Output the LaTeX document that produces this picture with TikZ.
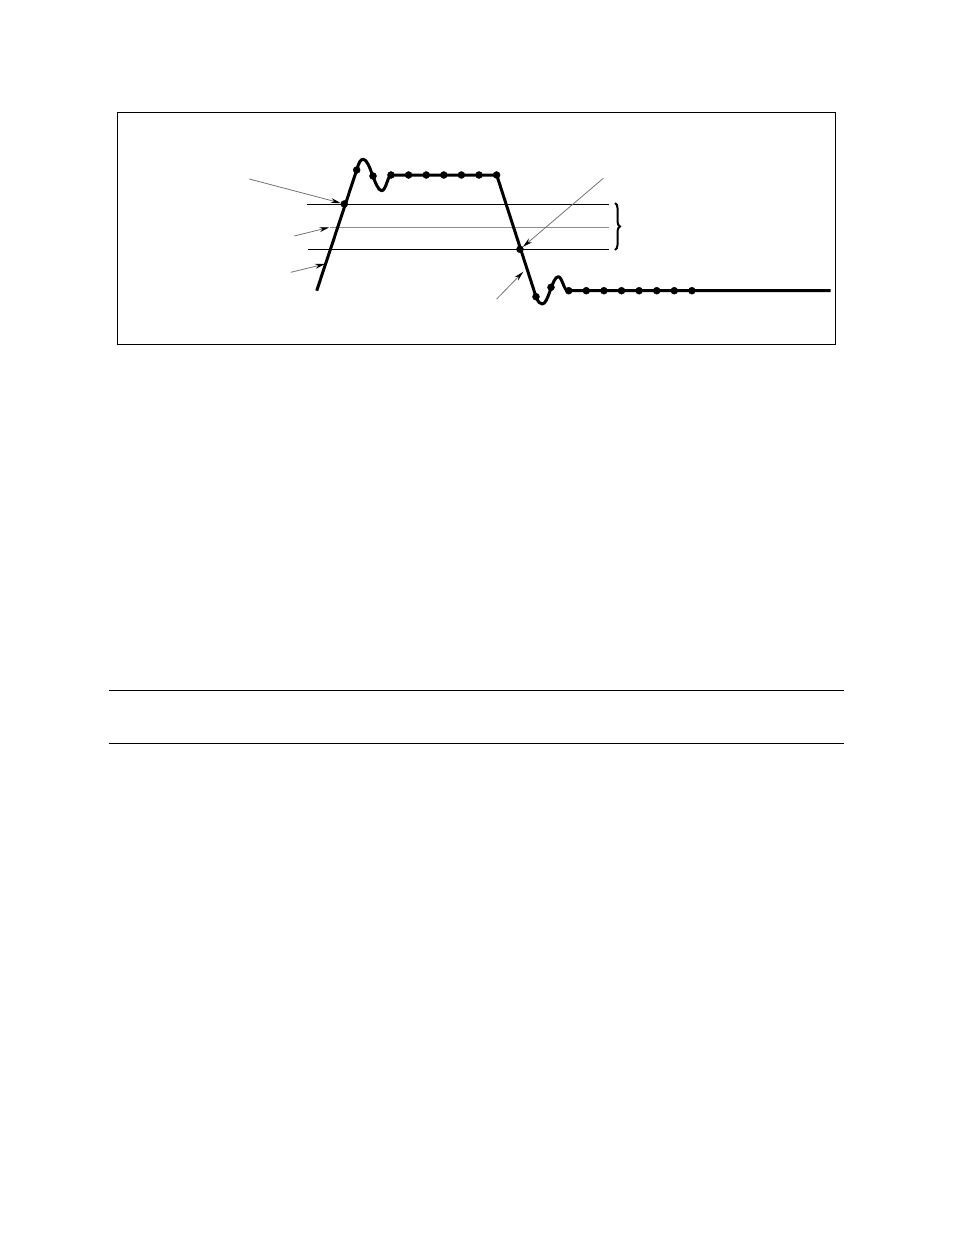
\documentclass[tikz,border=0pt]{standalone}
\usetikzlibrary{arrows.meta}
\usetikzlibrary{decorations.pathreplacing}
\tikzstyle{dot} = [draw, fill=black, circle, inner sep=0pt, minimum size=7pt]
\tikzstyle{signal} = [line width=3pt, line join=round]
\tikzstyle{level} = [line width=1pt]
\tikzstyle{pointer} = [draw=black!55, line width=0.8pt, -{Stealth[length=10pt, width=5pt, black]}]

\begin{document}
\begin{tikzpicture}[x=1pt, y=-1pt]
  \useasboundingbox (0,0) rectangle (954,1235);
  \draw[line width=1.2pt] (117.5,112.5) rectangle (835.5,344.5);

  % threshold levels
  \draw[level] (306.7,204) -- (609,204);
  \draw[level, black!45] (330,227.3) -- (609,227.3);
  \draw[level] (308.3,249) -- (609,249);
  \draw[line width=2pt, decorate, decoration={brace, amplitude=5pt}] (615,203) -- (615,250);

  % waveform
  \draw[signal] (316.7,290.7) -- (356.7,170)
    .. controls (359,162) and (360.5,159.3) .. (363.3,159.3)
    .. controls (370,159.3) and (375,190.7) .. (381.7,190.7)
    .. controls (386,190.7) and (388,175) .. (391,175)
    -- (496.7,175) -- (536,296.7)
    .. controls (538,302) and (540,304) .. (542.3,304)
    .. controls (548.5,304) and (552,276.7) .. (558.3,276.7)
    .. controls (562,276.7) and (564,290.7) .. (567.7,290.7)
    -- (830.7,290.7);

  % samples
  \node[dot] (up1) at (344.3,204) {};
  \node[dot] (up2) at (356.7,170) {};
  \node[dot] (ring1) at (373,176) {};
  \foreach \i in {0,...,6}
    \node[dot] (top\i) at ({391+17.6*\i},175) {};
  \node[dot] (dn1) at (520,249.3) {};
  \node[dot] (dn2) at (536,296.7) {};
  \node[dot] (ring2) at (551,287.3) {};
  \foreach \i in {0,...,7}
    \node[dot] (bot\i) at ({568.7+17.6*\i},290.7) {};

  % pointers
  \coordinate (a1) at (249.3,179);
  \coordinate (a2) at (294.3,236);
  \coordinate (h2) at (329.3,227.3);
  \coordinate (a3) at (290.7,272.3);
  \coordinate (h3) at (325,264);
  \coordinate (a4) at (603.3,178.3);
  \coordinate (a5) at (496.7,299);
  \coordinate (h5) at (523.3,271.7);
  \draw[pointer] (a1) -- (up1);
  \draw[pointer] (a2) -- (h2);
  \draw[pointer] (a3) -- (h3);
  \draw[pointer] (a4) -- (dn1);
  \draw[pointer] (a5) -- (h5);

  % rules below
  \draw[level] (109,690.3) -- (844,690.3);
  \draw[level] (109,743.3) -- (844,743.3);
\end{tikzpicture}
\end{document}
